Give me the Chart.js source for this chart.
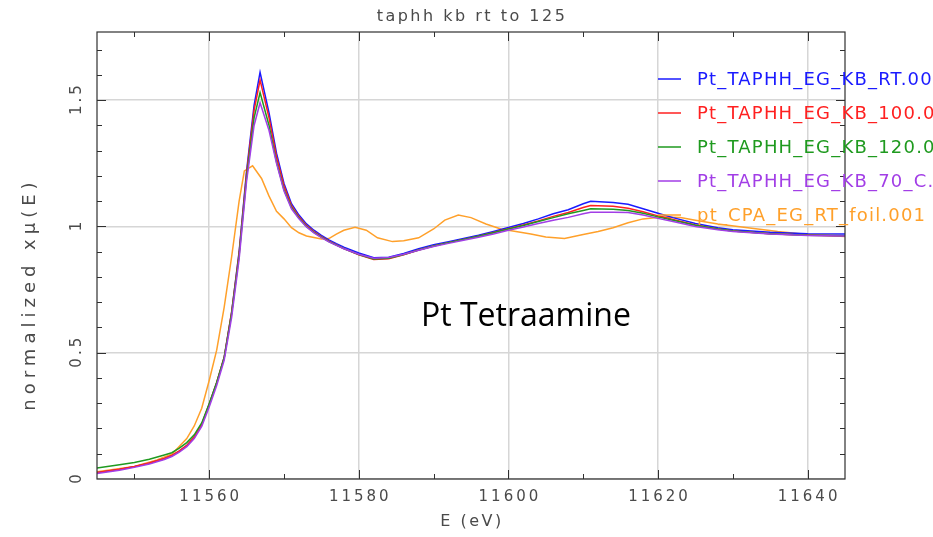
<!DOCTYPE html>
<html>
<head>
<meta charset="utf-8">
<title>taphh kb rt to 125</title>
<script src="https://cdn.jsdelivr.net/npm/chart.js@4.4.1/dist/chart.umd.min.js"></script>
<style>
  html, body { margin: 0; padding: 0; background: #fff; }
  #wrap { width: 933px; height: 537px; position: relative; }
</style>
</head>
<body>
<div id="wrap"><canvas id="xanes"></canvas></div>
<script>
'use strict';

// ── Data: Pt L3-edge XANES, normalized ───────────────────
const energy = [
  11545, 11548, 11550, 11552, 11554, 11555, 11556, 11557, 11558, 11559,
  11560, 11561, 11562, 11563, 11564, 11565, 11566, 11566.8, 11568, 11569,
  11570, 11571, 11572, 11573, 11574, 11575, 11576, 11577, 11578, 11580,
  11582, 11584, 11586, 11588, 11590, 11592, 11594, 11596, 11598, 11600,
  11602, 11604, 11606, 11608, 11610, 11611, 11614, 11616, 11618, 11620,
  11622, 11625, 11628, 11630, 11635, 11640, 11645
];
const muRT = [
  0.025, 0.038, 0.049, 0.062, 0.080, 0.092, 0.110, 0.132, 0.165, 0.215,
  0.295, 0.380, 0.480, 0.660, 0.900, 1.220, 1.480, 1.610, 1.450, 1.290,
  1.170, 1.090, 1.045, 1.010, 0.985, 0.965, 0.947, 0.932, 0.918, 0.895,
  0.876, 0.878, 0.893, 0.912, 0.928, 0.940, 0.952, 0.965, 0.980, 0.996,
  1.012, 1.030, 1.050, 1.066, 1.090, 1.100, 1.095, 1.088, 1.070, 1.052,
  1.035, 1.012, 0.995, 0.987, 0.977, 0.971, 0.970
];
const mu100 = [
  0.026, 0.039, 0.050, 0.063, 0.081, 0.093, 0.111, 0.133, 0.167, 0.217,
  0.297, 0.382, 0.482, 0.662, 0.895, 1.210, 1.460, 1.580, 1.430, 1.275,
  1.160, 1.082, 1.038, 1.004, 0.980, 0.960, 0.942, 0.927, 0.912, 0.888,
  0.869, 0.872, 0.888, 0.907, 0.923, 0.936, 0.948, 0.961, 0.976, 0.991,
  1.006, 1.022, 1.040, 1.055, 1.075, 1.083, 1.080, 1.072, 1.058, 1.042,
  1.028, 1.006, 0.990, 0.982, 0.971, 0.965, 0.963
];
const mu120 = [
  0.044, 0.056, 0.065, 0.078, 0.095, 0.104, 0.122, 0.144, 0.175, 0.222,
  0.298, 0.382, 0.480, 0.655, 0.885, 1.195, 1.430, 1.530, 1.400, 1.255,
  1.145, 1.075, 1.033, 1.000, 0.977, 0.958, 0.940, 0.926, 0.912, 0.889,
  0.871, 0.874, 0.889, 0.907, 0.923, 0.936, 0.948, 0.961, 0.975, 0.990,
  1.004, 1.020, 1.035, 1.050, 1.063, 1.070, 1.068, 1.063, 1.052, 1.038,
  1.025, 1.005, 0.990, 0.982, 0.971, 0.965, 0.963
];
const mu70 = [
  0.022, 0.035, 0.046, 0.059, 0.077, 0.089, 0.106, 0.128, 0.160, 0.208,
  0.285, 0.370, 0.470, 0.640, 0.870, 1.180, 1.400, 1.490, 1.380, 1.250,
  1.140, 1.070, 1.030, 0.998, 0.975, 0.956, 0.939, 0.925, 0.912, 0.890,
  0.874, 0.877, 0.890, 0.906, 0.921, 0.933, 0.945, 0.957, 0.970, 0.985,
  0.998, 1.012, 1.025, 1.036, 1.050, 1.056, 1.056, 1.055, 1.045, 1.032,
  1.020, 1.000, 0.987, 0.980, 0.970, 0.964, 0.962
];

// Pt foil reference, own energy grid
const foilEnergy = [
  11545, 11550, 11553, 11555, 11557, 11558, 11559, 11560, 11561, 11562,
  11563, 11564, 11564.7, 11565.8, 11567, 11568, 11569, 11570, 11571, 11572,
  11573, 11575, 11576, 11577, 11578, 11579.5, 11581, 11582.5, 11584.5, 11586,
  11588, 11590, 11591.5, 11593.3, 11595, 11597, 11599, 11601, 11603, 11605,
  11607.5, 11610, 11612, 11614, 11616, 11618, 11620.5, 11623, 11625, 11628,
  11632, 11636, 11640, 11645
];
const muFoil = [
  0.029, 0.050, 0.075, 0.098, 0.160, 0.210, 0.280, 0.390, 0.510, 0.680,
  0.880, 1.100, 1.220, 1.240, 1.190, 1.120, 1.060, 1.030, 0.995, 0.975,
  0.962, 0.950, 0.952, 0.970, 0.985, 0.997, 0.985, 0.955, 0.940, 0.943,
  0.955, 0.990, 1.025, 1.045, 1.035, 1.010, 0.990, 0.980, 0.970, 0.958,
  0.952, 0.968, 0.980, 0.995, 1.015, 1.030, 1.037, 1.035, 1.025, 1.010,
  0.995, 0.980, 0.968, 0.960
];

const seriesNames = [
  'Pt_TAPHH_EG_KB_RT.001',
  'Pt_TAPHH_EG_KB_100.001',
  'Pt_TAPHH_EG_KB_120.001',
  'Pt_TAPHH_EG_KB_70_C.001',
  'pt_CPA_EG_RT_foil.001'
];
const seriesColors = ['#1a1aff', '#ff2020', '#1f9a1f', '#a23ee6', '#ffa02a'];

const xTicks = [11560, 11580, 11600, 11620, 11640];
const yTicks = [0, 0.5, 1, 1.5];
const yTickText = ['0', '0.5', '1', '1.5'];

const pairs = (xs, ys) => xs.map((x, i) => ({ x: x, y: ys[i] }));

const AXIS_INK = '#4a4a4a';

// ── Frame, ticks, labels, legend ─────────────────────────
const decorations = {
  id: 'decorations',
  afterDraw(chart) {
    const { ctx, chartArea: a, scales: { x, y } } = chart;
    ctx.save();

    // frame
    ctx.strokeStyle = '#303030';
    ctx.lineWidth = 1.2;
    ctx.strokeRect(a.left, a.top, a.right - a.left, a.bottom - a.top);

    // x ticks, inward on bottom and top
    ctx.lineWidth = 1;
    for (let v = 11550; v <= 11640; v += 10) {
      const px = Math.round(x.getPixelForValue(v)) + 0.5;
      const len = v % 20 === 0 ? 9 : 5;
      ctx.beginPath();
      ctx.moveTo(px, a.bottom); ctx.lineTo(px, a.bottom - len);
      ctx.moveTo(px, a.top); ctx.lineTo(px, a.top + len);
      ctx.stroke();
    }
    // y ticks, inward on left and right
    for (let k = 1; k <= 17; k++) {
      const v = k / 10;
      const py = Math.round(y.getPixelForValue(v)) + 0.5;
      const len = k % 5 === 0 ? 9 : 5;
      ctx.beginPath();
      ctx.moveTo(a.left, py); ctx.lineTo(a.left + len, py);
      ctx.moveTo(a.right, py); ctx.lineTo(a.right - len, py);
      ctx.stroke();
    }

    ctx.fillStyle = AXIS_INK;
    ctx.textAlign = 'center';
    ctx.textBaseline = 'middle';

    // x tick labels
    ctx.font = '15px "DejaVu Sans", sans-serif';
    ctx.letterSpacing = '3px';
    xTicks.forEach(v => ctx.fillText(String(v), x.getPixelForValue(v) + 1.5, 497));

    // y tick labels, rotated
    yTicks.forEach((v, i) => {
      ctx.save();
      ctx.translate(77, y.getPixelForValue(v) - 1.5);
      ctx.rotate(-Math.PI / 2);
      ctx.fillText(yTickText[i], 0, 0);
      ctx.restore();
    });

    // title and axis titles
    ctx.font = '16px "DejaVu Sans", sans-serif';
    ctx.letterSpacing = '2.5px';
    ctx.fillText('taphh kb rt to 125', (a.left + a.right) / 2 + 1, 17);
    ctx.fillText('E (eV)', (a.left + a.right) / 2 + 1, 522);
    ctx.save();
    ctx.translate(30, 296);
    ctx.rotate(-Math.PI / 2);
    ctx.font = '18px "DejaVu Sans", sans-serif';
    ctx.letterSpacing = '5px';
    ctx.fillText('normalized x\u03bc(E)', 2, 0);
    ctx.restore();

    // legend
    ctx.font = '18px "DejaVu Sans", sans-serif';
    ctx.letterSpacing = '1.2px';
    ctx.textAlign = 'left';
    seriesNames.forEach((name, i) => {
      const ly = 79 + i * 34;
      ctx.strokeStyle = seriesColors[i];
      ctx.lineWidth = 1.5;
      ctx.beginPath();
      ctx.moveTo(658, ly); ctx.lineTo(681, ly);
      ctx.stroke();
      ctx.fillStyle = seriesColors[i];
      ctx.fillText(name, 697, ly + 1);
    });

    // sample label
    ctx.letterSpacing = '0px';
    ctx.fillStyle = '#000';
    ctx.font = '32px "Open Sans", sans-serif';
    ctx.textBaseline = 'alphabetic';
    ctx.fillText('Pt Tetraamine', 421, 326);

    ctx.restore();
  }
};

const curves = [muRT, mu100, mu120, mu70];
const datasets = curves.map((ys, i) => ({
  label: seriesNames[i],
  data: pairs(energy, ys),
  borderColor: seriesColors[i],
  borderWidth: 1.5,
  pointRadius: 0,
  tension: 0,
  order: 4 - i
}));
datasets.push({
  label: seriesNames[4],
  data: pairs(foilEnergy, muFoil),
  borderColor: seriesColors[4],
  borderWidth: 1.5,
  pointRadius: 0,
  tension: 0,
  order: 5
});

new Chart(document.getElementById('xanes'), {
  type: 'line',
  data: { datasets: datasets },
  options: {
    responsive: true,
    maintainAspectRatio: false,
    animation: false,
    layout: { padding: { left: 97, right: 88, top: 32, bottom: 58 } },
    plugins: {
      legend: { display: false },
      tooltip: { enabled: false }
    },
    scales: {
      x: {
        type: 'linear',
        min: 11545,
        max: 11645,
        afterBuildTicks: s => { s.ticks = xTicks.map(v => ({ value: v })); },
        ticks: { display: false },
        grid: { color: '#d6d6d6', lineWidth: 1.5, drawTicks: false },
        border: { display: false }
      },
      y: {
        type: 'linear',
        min: 0,
        max: 1.77,
        afterBuildTicks: s => { s.ticks = yTicks.map(v => ({ value: v })); },
        ticks: { display: false },
        grid: { color: '#d6d6d6', lineWidth: 1.5, drawTicks: false },
        border: { display: false }
      }
    }
  },
  plugins: [decorations]
});
</script>
</body>
</html>
